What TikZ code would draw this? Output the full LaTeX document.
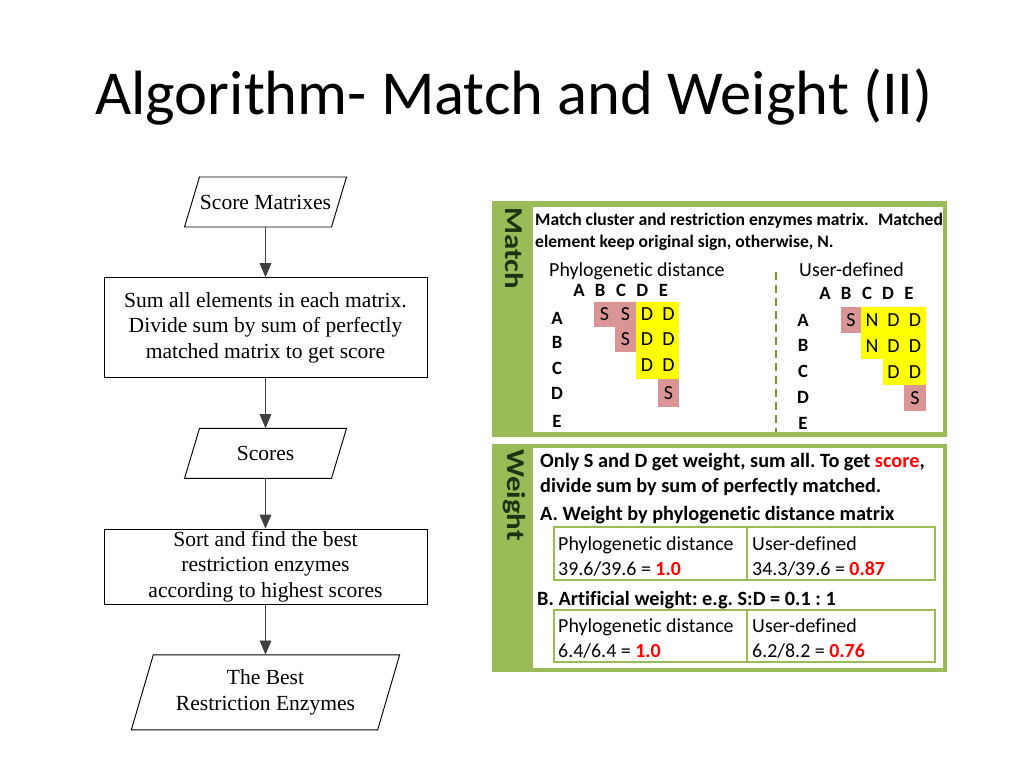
\documentclass[tikz,border=0pt]{standalone}
\usepackage{fontspec}
\setmainfont{Carlito}[Ligatures=NoCommon]
\newfontfamily\flowfont{Liberation Serif}
\usepackage {tikz}
\usetikzlibrary {positioning}
\usetikzlibrary{arrows.meta}
\definecolor{frameGreen}{RGB}{155,187,89}
\definecolor{dashGreen}{RGB}{119,147,60}
\definecolor{labelGreen}{RGB}{28,52,18}
\definecolor{cellPink}{RGB}{217,150,148}
\definecolor{cellYellow}{RGB}{255,255,0}
\definecolor{valRed}{RGB}{255,0,0}
\definecolor{flowGray}{RGB}{64,64,64}
\tikzset{
    process/.style = {rectangle, draw, line width=0.8pt, align=center, inner sep=0pt,
        font=\flowfont\fontsize{18.4}{22}\selectfont, minimum width=9.69cm},
    data/.style = {rectangle, align=center, inner sep=0pt,
        font=\flowfont\fontsize{18.4}{22}\selectfont},
    dataframe/.style = {rectangle, draw, line width=0.8pt, inner sep=0pt},
    flow/.style = {-{Triangle[length=12pt,width=10pt]}, line width=0.7pt, draw=flowGray},
    sidelabel/.style = {rotate=-90, xscale=1.2, text=labelGreen, inner sep=0pt,
        font=\bfseries\fontsize{22}{26}\selectfont},
    boldline/.style = {anchor=base west, inner sep=0pt, font=\bfseries\fontsize{15}{18}\selectfont},
    wline/.style = {anchor=base west, inner sep=0pt, font=\bfseries\fontsize{17.3}{20}\selectfont},
    plainline/.style = {anchor=base west, inner sep=0pt, font=\fontsize{17}{20}\selectfont},
    mhead/.style = {anchor=base, inner sep=0pt, font=\bfseries\fontsize{16}{19}\selectfont},
    cell/.style = {inner sep=0pt, font=\fontsize{17}{20}\selectfont},
    tableframe/.style = {draw=frameGreen, line width=1.7pt},
    divider/.style = {draw=dashGreen, line width=2.5pt, dash pattern=on 6.8pt off 4.3pt}
}
\newcommand{\val}[1]{\textbf{\color{valRed}#1}}
\frenchspacing
\begin{document}
\begin{tikzpicture}[x=0.03cm, y=-0.03cm, node distance=1.5cm]
    \useasboundingbox (0,0) rectangle (1024,768);
    % title
    \node[anchor=base west, inner sep=0pt, font=\fontsize{53.4}{60}\selectfont] (title) at (95,115)
        {Algorithm- Match and Weight (II)};

    % flow chart
    \node[data, minimum width=3.96cm, minimum height=1.5cm] (matrixes) at (265.5,202) {Score Matrixes};
    \node[process, minimum height=3cm] (sum) [below = of matrixes]
        {Sum all elements in each matrix.\\Divide sum by sum of perfectly\\matched matrix to get score};
    \node[data, minimum width=3.96cm, minimum height=1.5cm] (scores) [below = of sum] {Scores};
    \node[process, minimum height=2.25cm] (sort) [below = of scores]
        {Sort and find the best\\restriction enzymes\\according to highest scores};
    \node[data, minimum width=6.75cm, minimum height=2.25cm] (best) [below = of sort]
        {The Best\\Restriction Enzymes};
    % slanted frames of the data nodes
    \node[dataframe, xslant=0.3, minimum width=4.41cm, minimum height=1.5cm] (matrixesframe) at (matrixes) {};
    \node[dataframe, xslant=0.3, minimum width=4.41cm, minimum height=1.5cm] (scoresframe) at (scores) {};
    \node[dataframe, xslant=0.293, minimum width=7.39cm, minimum height=2.25cm] (bestframe) at (best) {};
    \draw[flow] (matrixes) -- (sum);
    \draw[flow] (sum) -- (scores);
    \draw[flow] (scores) -- (sort);
    \draw[flow] (sort) -- (best);

    % match panel
    \fill[frameGreen] (492,201) rectangle (947,437);
    \fill[white] (533,207) rectangle (943,432);
    \node[sidelabel] (matchlabel) at (514,248) {Match};
    \node[boldline] (match1) at (535,226) {Match cluster and restriction enzymes matrix.\hspace{0.3em} Matched};
    \node[boldline] (match2) at (535,248) {element keep original sign, otherwise, N.};
    \node[plainline] (phylohead) at (549,277) {Phylogenetic distance};
    \node[plainline] (userhead) at (799,277) {User-defined};
    \draw[divider] (776,272) -- (776,432);

    % phylogenetic matrix
    \fill[cellPink] (594,302) -- (636,302) -- (636,352) -- (615,352) -- (615,327) -- (594,327) -- cycle;
    \fill[cellPink] (658,379) rectangle (679,407);
    \fill[cellYellow] (636,302) rectangle (679,379);
    \foreach \c [count=\i from 0] in {A,B,C,D,E}
        \node[mhead] (phcol\c) at (579+21.1*\i,297) {\c};
    \foreach \r/\y in {A/325,B/349,C/375,D/400,E/428}
        \node[mhead] (phrow\r) at (557,\y) {\r};
    \foreach \x/\y/\t [count=\k] in {604.5/314.5/S,625.5/314.5/S,647/314.5/D,668.5/314.5/D,
        625.5/339.5/S,647/339.5/D,668.5/339.5/D,647/365.5/D,668.5/365.5/D,668.5/393/S}
        \node[cell] (phcell\k) at (\x,\y) {\t};

    % user-defined matrix
    \fill[cellPink] (841,307) rectangle (861,333);
    \fill[cellPink] (904,385) rectangle (926,411);
    \fill[cellYellow] (861,307) -- (926,307) -- (926,385) -- (883,385) -- (883,359) -- (861,359) -- cycle;
    \foreach \c [count=\i from 0] in {A,B,C,D,E}
        \node[mhead] (udcol\c) at (825+21*\i,300) {\c};
    \foreach \r/\y in {A/327,B/352,C/378,D/404,E/430}
        \node[mhead] (udrow\r) at (803,\y) {\r};
    \foreach \x/\y/\t [count=\k] in {851/320/S,872/320/N,893.5/320/D,915/320/D,
        872/346/N,893.5/346/D,915/346/D,893.5/372/D,915/372/D,915/398/S}
        \node[cell] (udcell\k) at (\x,\y) {\t};

    % weight panel
    \fill[frameGreen] (492,444) rectangle (947,672);
    \fill[white] (533,448) rectangle (943,668);
    \node[sidelabel] (weightlabel) at (514,495) {Weight};
    \node[wline] (weight1) at (540,468) {Only S and D get weight, sum all. To get {\color{valRed}score},};
    \node[wline] (weight2) at (540,493) {divide sum by sum of perfectly matched.};
    \node[wline] (weightA) at (540,520) {A. Weight by phylogenetic distance matrix};
    \draw[tableframe] (554,527) rectangle (935,580);
    \draw[tableframe] (747,527) -- (747,580);
    \node[plainline] (aphylo) at (558,550) {Phylogenetic distance};
    \node[plainline] (aphyloval) at (558,575) {39.6/39.6 = \val{1.0}};
    \node[plainline] (auser) at (752,550) {User-defined};
    \node[plainline] (auserval) at (752,575) {34.3/39.6 = \val{0.87}};
    \node[wline] (weightB) at (537,605) {B. Artificial weight: e.g. S:D = 0.1 : 1};
    \draw[tableframe] (554,610) rectangle (935,662);
    \draw[tableframe] (747,610) -- (747,662);
    \node[plainline] (bphylo) at (558,632) {Phylogenetic distance};
    \node[plainline] (bphyloval) at (558,657) {6.4/6.4 = \val{1.0}};
    \node[plainline] (buser) at (752,632) {User-defined};
    \node[plainline] (buserval) at (752,657) {6.2/8.2 = \val{0.76}};
\end{tikzpicture}
\end{document}
